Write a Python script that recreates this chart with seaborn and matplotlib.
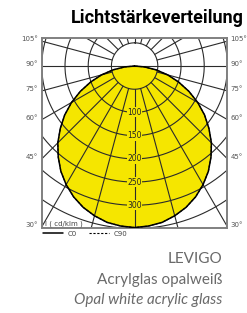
import numpy as np
import pandas as pd
import matplotlib.pyplot as plt
import seaborn as sns
from matplotlib.lines import Line2D

sns.set_style("white")
plt.rcParams['font.family'] = ['DejaVu Sans']

# Light distribution (cd/klm) per gamma angle
gamma = [0, 5, 10, 15, 20, 25, 30, 35, 40, 45, 50, 55, 60, 65, 70, 75, 80, 85, 90]
c0 = [348, 346, 342, 334, 324, 311, 295, 277, 256, 234, 209, 184, 157, 129, 101, 74, 47, 21, 0]
c90 = [348, 346, 342, 334, 324, 311, 295, 277, 256, 234, 209, 184, 157, 129, 101, 74, 47, 21, 0]

rings = [50, 100, 150, 200, 250, 300, 350, 400, 450]
ring_labels = [100, 150, 200, 250, 300]
ray_angles = list(range(0, 360, 15))
side_angles = [30, 45, 60, 75, 90, 105]

yellow = '#f5e600'
grid_col = '#2b2b2b'


def to_xy(values):
    # both halves of the plane, gamma measured from straight down
    g = np.radians(np.r_[-np.array(gamma[::-1]), np.array(gamma[1:])])
    r = np.r_[np.array(values[::-1]), np.array(values[1:])]
    return r * np.sin(g), -r * np.cos(g)


x0, y0 = to_xy(c0)
x90, y90 = to_xy(c90)
curves = pd.concat([
    pd.DataFrame({'x': x0, 'y': y0, 'plane': 'C0'}),
    pd.DataFrame({'x': x90, 'y': y90, 'plane': 'C90'}),
])

fig = plt.figure(figsize=(2.47, 3.13), dpi=100)
ax = fig.add_axes([0.169, 0.27, 0.752, 0.608])

# yellow area
ax.fill(x0, y0, color=yellow, zorder=1, lw=0)

# polar grid
t = np.linspace(0, 2 * np.pi, 400)
for r in rings:
    ax.plot(r * np.sin(t), r * np.cos(t), color=grid_col, lw=0.8, zorder=2)
for a in ray_angles:
    ar = np.radians(a)
    ax.plot([50 * np.sin(ar), 800 * np.sin(ar)], [-50 * np.cos(ar), -800 * np.cos(ar)],
            color=grid_col, lw=0.8, zorder=2)
ax.plot([-50, 50], [0, 0], color=grid_col, lw=0.8, zorder=2)

# intensity curves
sub0 = curves[curves['plane'] == 'C0']
sub90 = curves[curves['plane'] == 'C90']
sns.lineplot(data=sub0, x='x', y='y', sort=False, estimator=None, color='black', lw=1.1, ax=ax, zorder=3)
sns.lineplot(data=sub90, x='x', y='y', sort=False, estimator=None, color='black', lw=0.8,
             linestyle=(0, (2, 1.5)), ax=ax, zorder=3)

for v in ring_labels:
    ax.text(0, -v, str(v), ha='center', va='center', fontsize=5.5, color='#222222', zorder=4,
            bbox=dict(facecolor=yellow, edgecolor='none', pad=0.4))

ax.set_xlim(-200, 200)
ax.set_ylim(-350, 60)
ax.set_aspect('equal')
ax.set_xticks([])
ax.set_yticks([])
ax.set_xlabel('')
ax.set_ylabel('')
for s in ax.spines.values():
    s.set_color('#808080')
    s.set_linewidth(1.4)

for a in side_angles:
    ar = np.radians(a)
    yy = -200 * np.cos(ar) / np.sin(ar)
    ax.annotate(f'{a}°', (-200, yy), xytext=(-3, 1.5), textcoords='offset points',
                ha='right', va='center', fontsize=5, color='#555555', annotation_clip=False)
    ax.annotate(f'{a}°', (200, yy), xytext=(2, 1.5), textcoords='offset points',
                ha='left', va='center', fontsize=5, color='#555555', annotation_clip=False)

ax.text(0.018, 0.024, 'I ( cd/klm )', transform=ax.transAxes, ha='left', va='center',
        fontsize=5, color='#444444', zorder=5)

handles = [Line2D([], [], color='black', lw=1.1),
           Line2D([], [], color='black', lw=0.8, linestyle=(0, (2, 1.5)))]
ax.legend(handles, ['C0', 'C90'], loc='upper left', bbox_to_anchor=(0, -0.005), ncol=2,
          frameon=False, fontsize=5, handlelength=2.8, handletextpad=0.7,
          columnspacing=1.8, borderaxespad=0, borderpad=0.2, labelcolor='#444444')

fig.text(244 / 247, 1 - 23.3 / 313, 'Lichtstärkeverteilung', ha='right', va='baseline',
         fontsize=13, fontweight='bold', family=['Roboto', 'DejaVu Sans'], color='black')

grey = '#6a6a6a'
fig.text(222 / 247, 1 - 262.7 / 313, 'LEVIGO', ha='right', va='baseline',
         fontsize=11, family=['Lato', 'DejaVu Sans'], color=grey)
fig.text(222 / 247, 1 - 284.3 / 313, 'Acrylglas opalweiß', ha='right', va='baseline',
         fontsize=11, family=['Lato', 'DejaVu Sans'], color=grey)
fig.text(222 / 247, 1 - 304 / 313, 'Opal white acrylic glass', ha='right', va='baseline',
         fontsize=11, style='italic', family=['Lato', 'DejaVu Sans'], color=grey)

plt.savefig('out.png', dpi=100)
